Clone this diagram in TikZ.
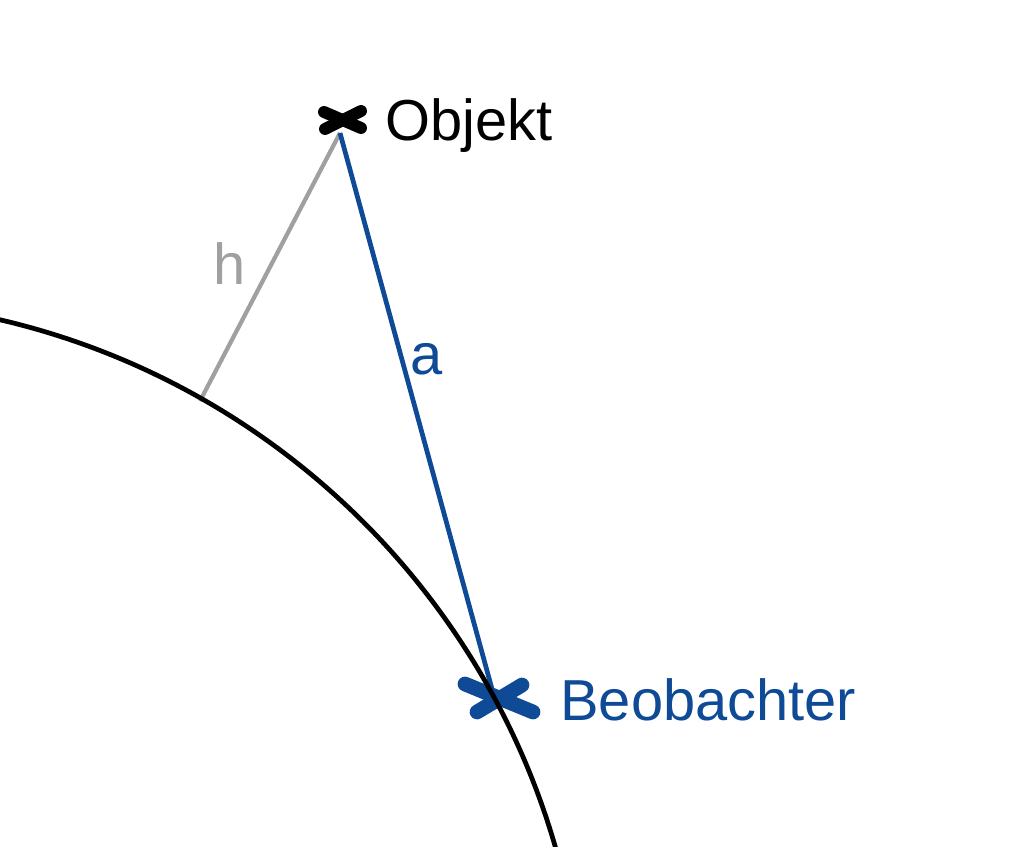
\documentclass[tikz,border=0pt]{standalone}
\usepackage{fontspec}
\setmainfont{Liberation Sans}
\usepackage{tikz}
\definecolor{beobblau}{RGB}{14,74,150}
\definecolor{hgrau}{RGB}{160,160,160}
\tikzset{
  kreuz/.style={line width=#1, line cap=round},
  beschr/.style={font=\fontsize{32.9}{40}\selectfont, inner sep=0pt, anchor=base west},
}
\begin{document}
\begin{tikzpicture}[x=0.02cm, y=-0.02cm]
		%%%%% START %%%%%
		\useasboundingbox (0, 0) rectangle (1024, 847);
		\clip (0, 0) rectangle (1024, 847);
		
		\coordinate (mitte) at (-172, 1057);
		\coordinate (objekt) at (340, 133);
		\coordinate (beob) at (495, 700);
		\coordinate (fuss) at (200, 401);
		\coordinate (okreuz) at (342, 121);
		\coordinate (bkreuz) at (497, 698);
		
		% Hoehe und Abstand
		\draw[line width=2.4pt, color=hgrau] (fuss) -- (objekt);
		\draw[line width=2.7pt, color=beobblau] (objekt) -- (beob);
		
		% Kreuze
		\draw[kreuz=6.8pt, shift={(okreuz)}] (-18, -9) -- (19, 7);
		\draw[kreuz=6.8pt, shift={(okreuz)}] (-17, 8) -- (19, -10);
		\draw[kreuz=8.4pt, color=beobblau, shift={(bkreuz)}] (-32, -14) -- (36, 14);
		\draw[kreuz=8.4pt, color=beobblau, shift={(bkreuz)}] (25, -13) -- (-20, 14);
		
		% Erde
		\draw[line width=2.7pt] (mitte) circle (15.14cm);
		
		\node[beschr] (lobjekt) at (385, 141) {Objekt};
		\node[beschr, color=beobblau] (lbeob) at (560, 720) {Beobachter};
		\node[beschr, color=hgrau] (lh) at (213, 285) {h};
		\node[beschr, color=beobblau] (la) at (410, 375) {a};
		%%%%% END %%%%%
\end{tikzpicture}
\end{document}
